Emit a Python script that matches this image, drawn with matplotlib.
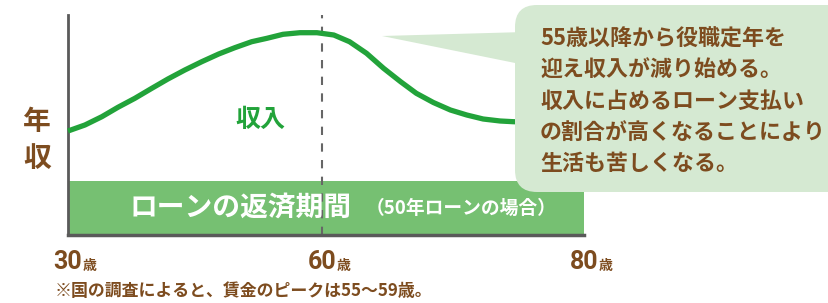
import numpy as np
import matplotlib
matplotlib.use("Agg")
import matplotlib.pyplot as plt
from matplotlib.patches import FancyBboxPatch, Polygon
from matplotlib.transforms import Affine2D
from matplotlib.scale import FuncScale

plt.rcParams['font.family'] = ['Noto Sans CJK JP', 'DejaVu Sans']

# データ
ages = [30, 32.0, 34.0, 35.9, 37.9, 39.9, 41.8, 43.8, 45.8, 47.8, 49.7, 51.7, 53.5, 55.4,
        57.4, 59.4, 60.9, 62.1, 63.4, 64.7, 66.0, 67.2, 68.5, 69.8, 71.05, 72.3, 73.6,
        74.6, 77, 80]
income = [104, 110, 118.3, 127.7, 136.7, 146.7, 156, 165, 173.3, 181, 187.3, 193.3, 196.7,
          200.7, 202.3, 202.3, 200, 193.3, 181.7, 166.7, 153.3, 141.7, 132.5, 125, 120,
          116, 114, 113.3, 112.5, 112]
tick_ages = [30, 60, 80]
loan_start, loan_end = 30, 80
loan_height = 53
peak_age = 60

note_lines = ['55歳以降から役職定年を',
              '迎え収入が減り始める。',
              '収入に占めるローン支払い',
              'の割合が高くなることにより',
              '生活も苦しくなる。']

brown = '#7d4c1f'
green = '#22a33a'
bar_green = '#76c072'
bubble = '#d5e9d2'
grey = '#5a5a5a'

W, H = 829, 303
fig = plt.figure(figsize=(W / 100, H / 100), dpi=100)
# ピクセル座標（左上原点）
px = Affine2D().scale(1 / 100).scale(1, -1).translate(0, H / 100) + fig.dpi_scale_trans

# 横軸は目盛り間隔が等間隔でない（30-60 と 60-80）
seg_a = [30, 60, 80]
seg_p = [0, 254, 516]
fwd = lambda a: np.interp(a, seg_a, seg_p)
inv = lambda p: np.interp(p, seg_p, seg_a)

ax = fig.add_axes([68 / W, (H - 235) / H, 516 / W, 220 / H])
ax.set_xscale(FuncScale(ax, (fwd, inv)))
ax.set_xlim(30, 80)
ax.set_ylim(0, 220)

ax.barh(loan_height / 2 + 1, loan_end - loan_start, left=loan_start, height=loan_height,
        color=bar_green, zorder=1)
ax.plot(ages, income, color=green, lw=3.8, solid_capstyle='butt', zorder=3, clip_on=False)
ax.axvline(peak_age, color='#666666', lw=1.5, ls=(0, (4, 4)), zorder=2)

for s in ['top', 'right']:
    ax.spines[s].set_visible(False)
ax.spines['left'].set_color(grey)
ax.spines['left'].set_linewidth(2)
ax.spines['bottom'].set_color(grey)
ax.spines['bottom'].set_linewidth(2.5)
ax.set_xticks(tick_ages)
ax.set_xticklabels([])
ax.set_yticks([])
ax.tick_params(axis='x', length=0)

for a in tick_ages:
    ax.annotate(str(a), xy=(a, 0), xycoords=('data', 'axes fraction'), xytext=(0, -27),
                textcoords='offset pixels', ha='center', va='center', fontsize=18,
                fontweight='bold', color=brown, family=['Roboto', 'Noto Sans CJK JP'])
    ax.annotate('歳', xy=(a, 0), xycoords=('data', 'axes fraction'), xytext=(15, -31),
                textcoords='offset pixels', ha='left', va='center', fontsize=10,
                fontweight='bold', color=brown)

ax.text(52.7, 115, '収入', color=green, fontsize=18, fontweight='bold', ha='center', va='center')
ax.annotate('ローンの返済期間', xy=(30, loan_height / 2 + 1), xycoords='data', xytext=(62, 0),
            textcoords='offset pixels', ha='left', va='center', color='white',
            fontsize=20, fontweight='bold')
ax.annotate('（50年ローンの場合）', xy=(30, loan_height / 2 + 1), xycoords='data', xytext=(298, -1),
            textcoords='offset pixels', ha='left', va='center', color='white',
            fontsize=13.5, fontweight='bold')

# 年収ラベル
fig.text(37, 122, '年', transform=px, ha='center', va='center', fontsize=20, fontweight='bold', color=brown)
fig.text(37, 159, '収', transform=px, ha='center', va='center', fontsize=20, fontweight='bold', color=brown)

# 吹き出し
fig.add_artist(Polygon([(382, 36), (525, 32), (525, 65)], closed=True, transform=px,
                       facecolor=bubble, edgecolor='none', zorder=5))
fig.add_artist(FancyBboxPatch((515, 5), 340, 187, boxstyle='round,pad=0,rounding_size=22',
                              transform=px, facecolor=bubble, edgecolor='none', zorder=5))
for i, line in enumerate(note_lines):
    fig.text(540, 39 + i * 31, line, transform=px, ha='left', va='center', fontsize=15.8,
             fontweight='bold', color=brown, zorder=6)

fig.text(55, 291, '※国の調査によると、賃金のピークは55〜59歳。', transform=px, ha='left', va='center',
         fontsize=12.2, fontweight='bold', color=brown)

fig.savefig('out.png', dpi=100)
